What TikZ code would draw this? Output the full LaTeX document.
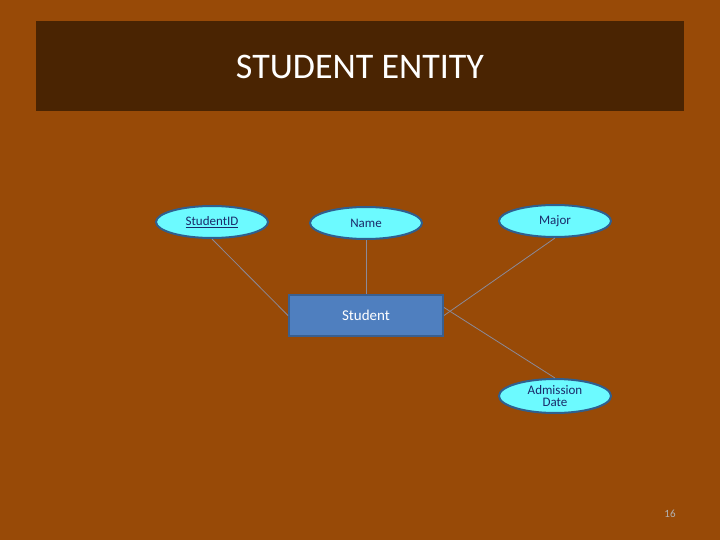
\documentclass[tikz,border=0pt]{standalone}
\usepackage{fontspec}
\setmainfont{Carlito}
\usetikzlibrary{shapes.geometric}
\definecolor{bg}{HTML}{984A07}
\definecolor{band}{HTML}{4A2402}
\definecolor{attrfill}{HTML}{6CFAFF}
\definecolor{attredge}{HTML}{2F5F8F}
\definecolor{entfill}{HTML}{4F7FBF}
\definecolor{entedge}{HTML}{3A5F8F}
\definecolor{navy}{HTML}{1A2A6A}
\definecolor{linec}{HTML}{8A8A9A}
\tikzset{
 attr/.style={ellipse,draw=attredge,line width=2pt,fill=attrfill,minimum width=112pt,minimum height=32pt,inner sep=0pt,text=navy,font=\fontsize{13}{14}\selectfont,align=center},
 ent/.style={rectangle,draw=entedge,line width=2pt,fill=entfill,minimum width=154pt,minimum height=41pt,text=white,font=\fontsize{15}{16}\selectfont},
 conn/.style={draw=linec,line width=0.8pt}
}
\begin{document}
\begin{tikzpicture}[x=1pt,y=-1pt]
\fill[bg] (0,0) rectangle (720,540);
\fill[band] (36,21) rectangle (684,111);
\node[text=white,font=\fontsize{36}{40}\selectfont] (title) at (360,67) {STUDENT ENTITY};
\node[ent] (student) at (366,315.5) {Student};
\node[attr] (sid) at (212,222) {\underline{StudentID}};
\node[attr] (name) at (366,223) {Name};
\node[attr] (major) at (555,221) {Major};
\node[attr,minimum height=34pt] (adm) at (555,396) {Admission\\[-2pt]Date};
\node[text=gray!60,font=\fontsize{11}{12}\selectfont] (pg) at (670,514) {16};
\draw[conn] (sid.south) -- (student.west);
\draw[conn] (name.south) -- (student.north);
\draw[conn] (major.south) -- (student.east);
\draw[conn] (adm.north) -- ([yshift=8pt]student.east);
\end{tikzpicture}
\end{document}
